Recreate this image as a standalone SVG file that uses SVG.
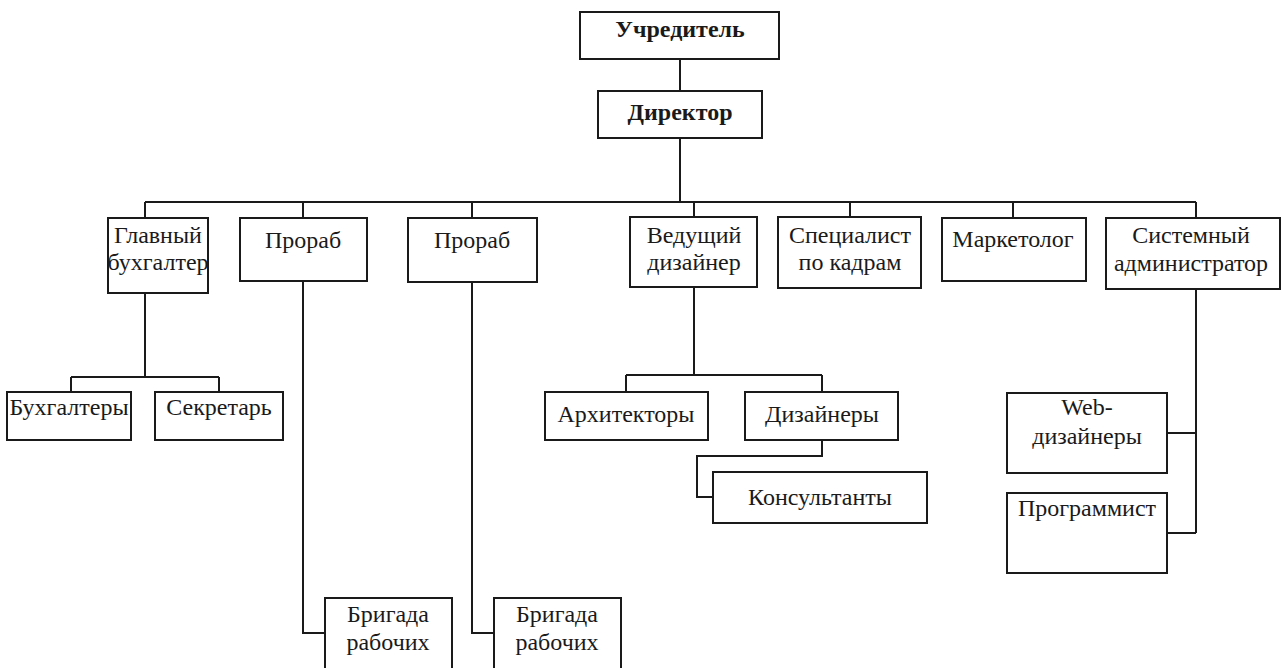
<svg xmlns="http://www.w3.org/2000/svg" width="1284" height="668" viewBox="0 0 1284 668">
<style>
rect{fill:#fff;stroke:#1a1a1a;stroke-width:2}
text{font-family:"Liberation Serif","Times New Roman",serif;font-size:24px;fill:#1a1a1a;text-anchor:middle}
.b{font-weight:bold}
#connectors path{fill:none;stroke:#1a1a1a;stroke-width:2}
</style>
<rect x="0" y="0" width="1284" height="668" style="stroke:none"/>
<g id="connectors">
<path d="M680 59V91"/>
<path d="M680 138V202"/>
<path d="M145 202H1196"/>
<path d="M145 202V218M303 202V218M472 202V218M694 202V217M850 202V217M1013 202V218M1196 202V218"/>
<path d="M145 293V377M71 377H219M71 377V392M219 377V392"/>
<path d="M303 281V633H325"/>
<path d="M472 282V633H494"/>
<path d="M694 287V375M626 375H822M626 375V392M822 375V392"/>
<path d="M822 440V456H697V497H713"/>
<path d="M1196 289V533M1167 433H1196M1167 533H1196"/>
</g>
<g id="n-uchreditel"><rect x="580" y="12" width="199" height="47"/><text class="b" x="680" y="37">Учредитель</text></g>
<g id="n-direktor"><rect x="598" y="91" width="164" height="47"/><text class="b" x="680" y="120">Директор</text></g>
<g id="n-glavbuh"><rect x="108" y="218" width="100" height="75"/><text x="158" y="243">Главный</text><text x="158" y="270">бухгалтер</text></g>
<g id="n-prorab1"><rect x="240" y="218" width="127" height="63"/><text x="303" y="248">Прораб</text></g>
<g id="n-prorab2"><rect x="408" y="218" width="129" height="64"/><text x="472" y="248">Прораб</text></g>
<g id="n-vedushchiy"><rect x="630" y="217" width="127" height="70"/><text x="694" y="243">Ведущий</text><text x="694" y="270">дизайнер</text></g>
<g id="n-specialist"><rect x="778" y="217" width="143" height="71"/><text x="850" y="243">Специалист</text><text x="850" y="270">по кадрам</text></g>
<g id="n-marketolog"><rect x="942" y="218" width="144" height="63"/><text x="1013" y="247">Маркетолог</text></g>
<g id="n-sysadmin"><rect x="1106" y="218" width="174" height="71"/><text x="1191" y="243">Системный</text><text x="1191" y="271">администратор</text></g>
<g id="n-buhgaltery"><rect x="7" y="392" width="124" height="48"/><text x="69" y="415">Бухгалтеры</text></g>
<g id="n-sekretar"><rect x="155" y="392" width="128" height="48"/><text x="219" y="415">Секретарь</text></g>
<g id="n-arhitektory"><rect x="545" y="392" width="163" height="48"/><text x="626" y="422">Архитекторы</text></g>
<g id="n-dizainery"><rect x="745" y="392" width="153" height="48"/><text x="822" y="422">Дизайнеры</text></g>
<g id="n-konsultanty"><rect x="713" y="472" width="214" height="51"/><text x="820" y="505">Консультанты</text></g>
<g id="n-web"><rect x="1007" y="393" width="160" height="80"/><text x="1087" y="415">Web-</text><text x="1087" y="444">дизайнеры</text></g>
<g id="n-programmist"><rect x="1007" y="493" width="160" height="80"/><text x="1087" y="516">Программист</text></g>
<g id="n-brigada1"><rect x="325" y="598" width="127" height="80"/><text x="388" y="622">Бригада</text><text x="388" y="650">рабочих</text></g>
<g id="n-brigada2"><rect x="494" y="598" width="127" height="80"/><text x="557" y="622">Бригада</text><text x="557" y="650">рабочих</text></g>
</svg>
